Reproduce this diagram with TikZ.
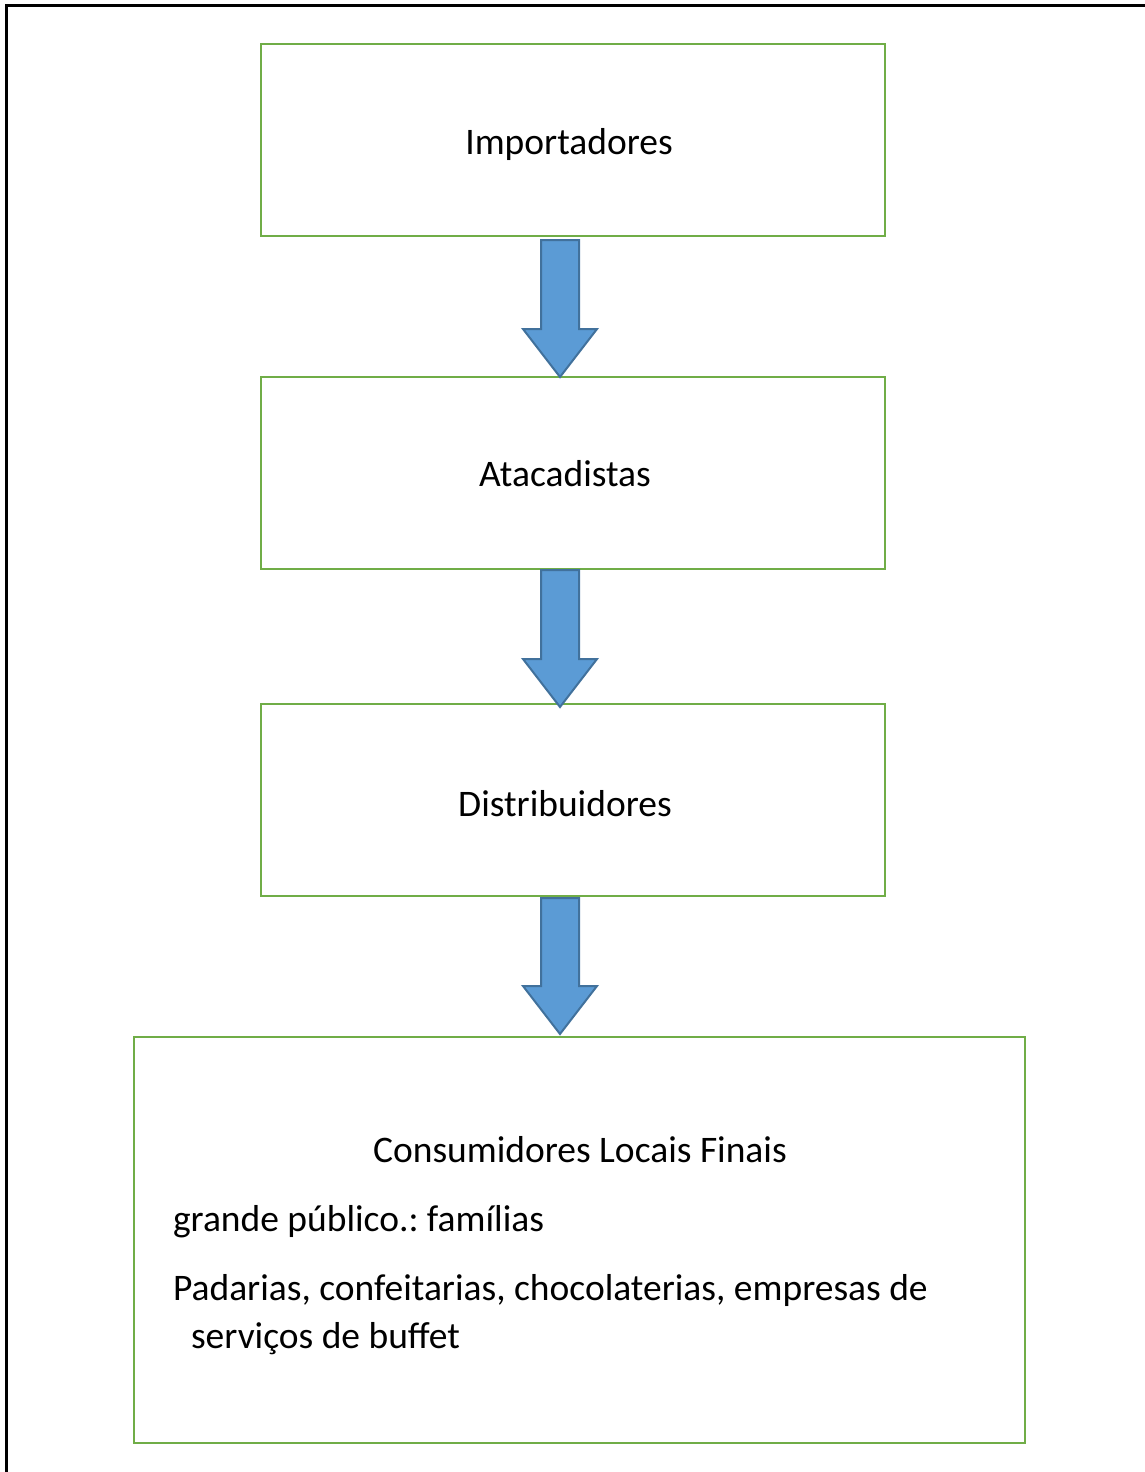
\documentclass[tikz,border=0pt]{standalone}
\usepackage{fontspec}
\setmainfont{Carlito}
\frenchspacing
\usetikzlibrary{calc}
\definecolor{boxgreen}{RGB}{112,173,71}
\definecolor{arrowfill}{RGB}{91,155,213}
\definecolor{arrowline}{RGB}{65,113,156}
\tikzset{
  greenbox/.style={draw=boxgreen, line width=2.2pt, rectangle, inner sep=0pt, outer sep=0pt},
  lbl/.style={inner sep=0pt, outer sep=0pt, font=\fontsize{37.5}{48}\selectfont},
  blockarrow/.style={fill=arrowfill, draw=arrowline, line width=2pt, line join=miter},
  frameline/.style={draw=black, line width=3pt}
}
\newcommand{\downblockarrow}[2]{%
  \path[blockarrow] ($(#1)+(-19,0)$) -- ($(#2)+(-19,-48)$) -- ($(#2)+(-37,-48)$) -- (#2)
    -- ($(#2)+(37,-48)$) -- ($(#2)+(19,-48)$) -- ($(#1)+(19,0)$) -- cycle;}
\begin{document}
\begin{tikzpicture}[x=1pt,y=-1pt]
\useasboundingbox (0,0) rectangle (1144,1472);
% outer frame (right and bottom edges lie outside the picture)
\draw[frameline] (6,1480) -- (6,6) -- (1150,6);
% boxes
\node[greenbox, minimum width=624pt, minimum height=192pt] (b1) at (573,140) {};
\node[greenbox, minimum width=624pt, minimum height=192pt] (b2) at (573,473) {};
\node[greenbox, minimum width=624pt, minimum height=192pt] (b3) at (573,800) {};
\node[greenbox, minimum width=891pt, minimum height=406pt] (b4) at (579.5,1240) {};
% texts
\node[lbl, anchor=base] (t1) at (569,154) {Importadores};
\node[lbl, anchor=base] (t2) at (565,486) {Atacadistas};
\node[lbl, anchor=base] (t3) at (565,816) {Distribuidores};
\node[lbl, anchor=base] (t4) at (580,1162) {Consumidores Locais Finais};
\node[lbl, anchor=base west] (t5) at (173,1231) {grande público.: famílias};
\node[lbl, anchor=base west] (t6) at (173,1300) {Padarias, confeitarias, chocolaterias, empresas de};
\node[lbl, anchor=base west] (t7) at (191,1348) {serviços de buffet};
% arrows
\coordinate (a1s) at ($(b1.south)+(-13,4)$);
\coordinate (a1e) at (b2.north -| a1s);
\coordinate (a2s) at ($(b2.south)+(-13,1)$);
\coordinate (a2e) at ($(b3.north -| a2s)+(0,3)$);
\coordinate (a3s) at ($(b3.south)+(-13,2)$);
\coordinate (a3e) at ($(b4.north -| a3s)+(0,-3)$);
\downblockarrow{a1s}{a1e}
\downblockarrow{a2s}{a2e}
\downblockarrow{a3s}{a3e}
\end{tikzpicture}
\end{document}
